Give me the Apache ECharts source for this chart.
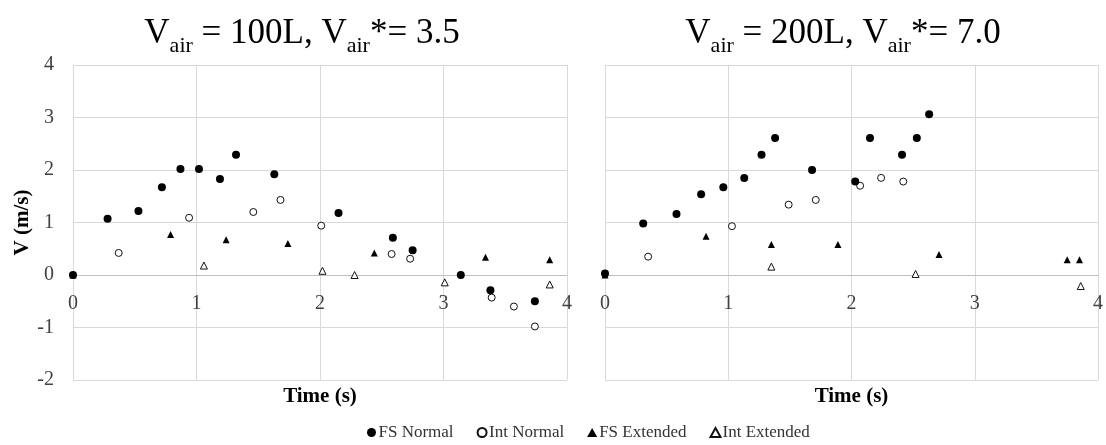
<!DOCTYPE html>
<html>
<head>
<meta charset="utf-8">
<script src="https://cdn.jsdelivr.net/npm/echarts@6/dist/echarts.min.js"></script>
<style>
  html, body { margin: 0; padding: 0; background: #fff; }
  #main { width: 1106px; height: 445px; }
</style>
</head>
<body>
<div id="main"></div>
<script>
// left panel: Vair = 100L
var fsNormal100 = [[0, 0], [0.28, 1.07], [0.53, 1.22], [0.72, 1.67], [0.87, 2.02], [1.02, 2.02], [1.19, 1.83], [1.32, 2.29], [1.63, 1.92], [2.15, 1.18], [2.59, 0.71], [2.75, 0.47], [3.14, 0.0], [3.38, -0.29], [3.74, -0.5]];
var intNormal100 = [[0.37, 0.42], [0.94, 1.09], [1.46, 1.2], [1.68, 1.43], [2.01, 0.94], [2.58, 0.4], [2.73, 0.31], [3.39, -0.43], [3.57, -0.6], [3.74, -0.98]];
var fsExt100 = [[0, 0], [0.79, 0.77], [1.24, 0.67], [1.74, 0.6], [2.44, 0.42], [3.34, 0.34], [3.86, 0.29]];
var intExt100 = [[1.06, 0.18], [2.02, 0.08], [2.28, 0.0], [3.01, -0.14], [3.86, -0.18]];

// right panel: Vair = 200L
var fsNormal200 = [[0, 0.03], [0.31, 0.98], [0.58, 1.16], [0.78, 1.54], [0.96, 1.67], [1.13, 1.85], [1.27, 2.29], [1.38, 2.61], [1.68, 2.0], [2.03, 1.78], [2.15, 2.61], [2.41, 2.29], [2.53, 2.61], [2.63, 3.06]];
var intNormal200 = [[0.35, 0.35], [1.03, 0.93], [1.49, 1.34], [1.71, 1.43], [2.07, 1.7], [2.24, 1.85], [2.42, 1.78]];
var fsExt200 = [[0, 0], [0.82, 0.74], [1.35, 0.58], [1.89, 0.58], [2.71, 0.39], [3.75, 0.29], [3.85, 0.29]];
var intExt200 = [[1.35, 0.16], [2.52, 0.02], [3.86, -0.21]];

var seriesNames = ['FS Normal', 'Int Normal', 'FS Extended', 'Int Extended'];
var xTicks = [0, 1, 2, 3, 4];
var yTicks = [-2, -1, 0, 1, 2, 3, 4];

var serif = '"Liberation Serif", "Times New Roman", serif';
var gridColor = '#d9d9d9';
var plotH = 315;

function titleText(vol, vstar) {
    return '{a|V}{s|air}{a| = ' + vol + ', V}{s|air}{a|*= ' + vstar + '}';
}

// subscript pushed down with top padding
var titleRich = {
    a: { fontSize: 35, fontFamily: serif, fontWeight: 'normal', color: '#000', lineHeight: 36, verticalAlign: 'top' },
    s: { fontSize: 22, fontFamily: serif, fontWeight: 'normal', color: '#000', lineHeight: 22, verticalAlign: 'top', padding: [19, 0, 0, 0] }
};

function makeXAxis(idx) {
    return {
        type: 'value',
        gridIndex: idx,
        min: xTicks[0],
        max: xTicks[xTicks.length - 1],
        interval: 1,
        name: 'Time (s)',
        nameLocation: 'middle',
        nameGap: 111,
        nameTextStyle: { fontFamily: serif, fontSize: 21, fontWeight: 'bold', color: '#000' },
        // axis sits on y = 0 (2 of 6 units above the bottom)
        offset: -plotH * 2 / 6,
        axisLine: { show: true, onZero: false, lineStyle: { color: '#bfbfbf', width: 1 } },
        axisTick: { show: false },
        axisLabel: { fontFamily: serif, fontSize: 20, color: '#404040', margin: 19 },
        splitLine: { show: true, lineStyle: { color: gridColor, width: 1 } }
    };
}

function makeYAxis(idx, showLabels) {
    return {
        type: 'value',
        gridIndex: idx,
        min: yTicks[0],
        max: yTicks[yTicks.length - 1],
        interval: 1,
        name: showLabels ? 'V (m/s)' : '',
        nameLocation: 'middle',
        nameGap: 38,
        nameTextStyle: { fontFamily: serif, fontSize: 21, fontWeight: 'bold', color: '#000' },
        axisLine: { show: false },
        axisTick: { show: false },
        axisLabel: { show: showLabels, fontFamily: serif, fontSize: 20, color: '#404040', margin: 19 },
        splitLine: { show: true, lineStyle: { color: gridColor, width: 1 } }
    };
}

var markerStyles = [
    { symbol: 'circle', symbolSize: 8, itemStyle: { color: '#000', opacity: 1 } },
    { symbol: 'circle', symbolSize: 7, itemStyle: { color: '#fff', borderColor: '#111', borderWidth: 1, opacity: 1 } },
    { symbol: 'triangle', symbolSize: 7, itemStyle: { color: '#000', opacity: 1 } },
    { symbol: 'triangle', symbolSize: 7, itemStyle: { color: '#fff', borderColor: '#111', borderWidth: 1, opacity: 1 } }
];

function makeSeries(name, k, idx, data) {
    return {
        name: name,
        type: 'scatter',
        xAxisIndex: idx,
        yAxisIndex: idx,
        symbol: markerStyles[k].symbol,
        symbolSize: markerStyles[k].symbolSize,
        itemStyle: markerStyles[k].itemStyle,
        data: data,
        z: 10 - k
    };
}

var option = {
    animation: false,
    backgroundColor: '#fff',
    title: [
        { text: titleText('100L', '3.5'), left: 297, top: 11, textAlign: 'center', textStyle: { rich: titleRich } },
        { text: titleText('200L', '7.0'), left: 838, top: 11, textAlign: 'center', textStyle: { rich: titleRich } }
    ],
    legend: {
        data: seriesNames,
        left: 362,
        top: 419,
        itemWidth: 10,
        itemHeight: 9,
        itemGap: 23,
        textStyle: { fontFamily: serif, fontSize: 17, color: '#333', padding: [0, 0, 0, -3] }
    },
    grid: [
        { left: 73, top: 65, width: 494, height: plotH, outerBoundsMode: 'none' },
        { left: 605, top: 65, width: 493, height: plotH, outerBoundsMode: 'none' }
    ],
    xAxis: [makeXAxis(0), makeXAxis(1)],
    yAxis: [makeYAxis(0, true), makeYAxis(1, false)],
    series: [
        makeSeries(seriesNames[0], 0, 0, fsNormal100),
        makeSeries(seriesNames[1], 1, 0, intNormal100),
        makeSeries(seriesNames[2], 2, 0, fsExt100),
        makeSeries(seriesNames[3], 3, 0, intExt100),
        makeSeries(seriesNames[0], 0, 1, fsNormal200),
        makeSeries(seriesNames[1], 1, 1, intNormal200),
        makeSeries(seriesNames[2], 2, 1, fsExt200),
        makeSeries(seriesNames[3], 3, 1, intExt200)
    ]
};

var chart = echarts.init(document.getElementById('main'));
chart.setOption(option);
</script>
</body>
</html>
